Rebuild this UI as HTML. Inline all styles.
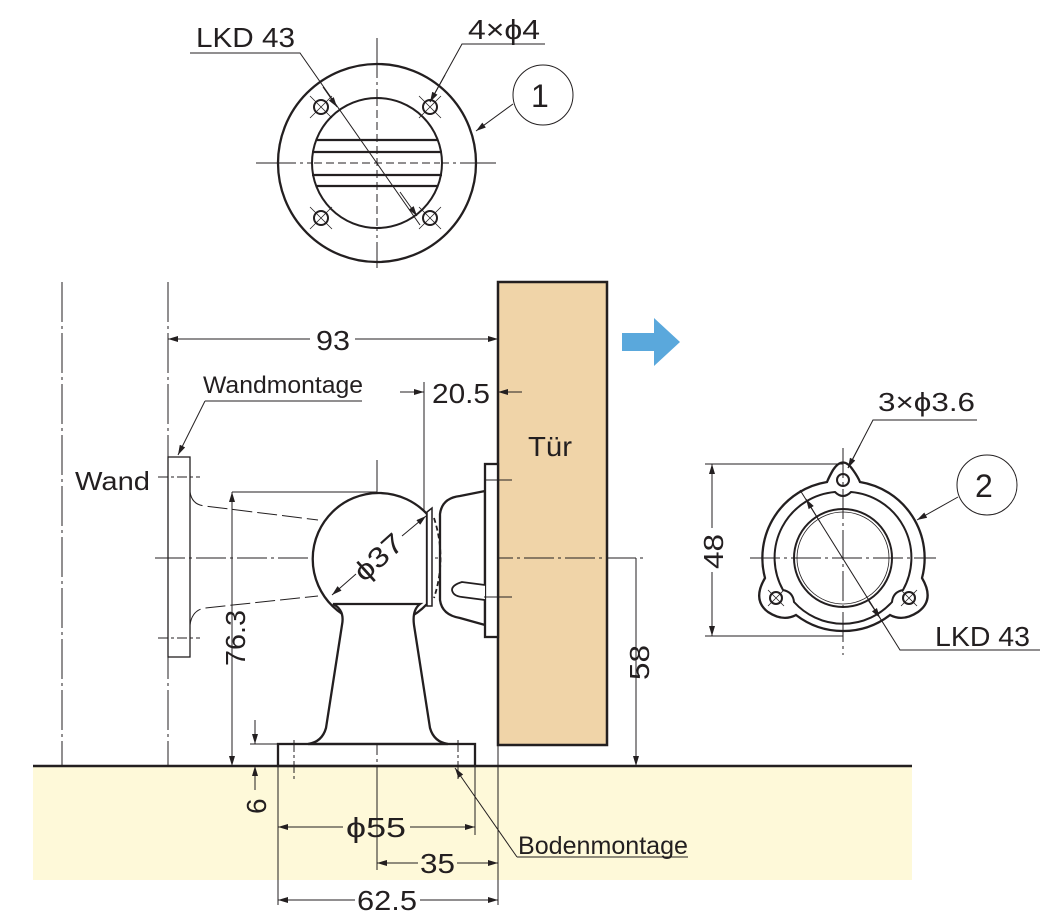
<!DOCTYPE html>
<html><head><meta charset="utf-8"><style>
html,body{margin:0;padding:0;background:#fff;}
svg{display:block;}
text{font-family:"Liberation Sans",sans-serif;fill:#231f20;}
</style></head><body>
<svg width="1051" height="917" viewBox="0 0 1051 917" xmlns="http://www.w3.org/2000/svg">
<defs>
<marker id="a" viewBox="0 0 10 6" refX="10" refY="3" markerWidth="14" markerHeight="6" markerUnits="userSpaceOnUse" orient="auto-start-reverse"><path d="M0,0L10,3L0,6z" fill="#231f20"/></marker>
</defs>
<rect x="33" y="766" width="879" height="114" fill="#fef9d9"/>
<rect x="498" y="282" width="109" height="463" fill="#f0d4a8" stroke="#231f20" stroke-width="2.5"/>
<line x1="33" y1="766" x2="912" y2="766" stroke="#231f20" stroke-width="2.5"/>

<g stroke="#231f20" fill="none" stroke-width="1">
<line x1="62" y1="282" x2="62" y2="766" stroke-dasharray="40,4,3,4"/>
<line x1="168" y1="282" x2="168" y2="766" stroke-dasharray="40,4,3,4"/>
<rect x="168" y="457" width="22" height="200" stroke-width="1.3"/>
<line x1="158" y1="477" x2="200" y2="477" stroke-dasharray="10,3,3,3"/>
<line x1="158" y1="638" x2="200" y2="638" stroke-dasharray="10,3,3,3"/>
<path d="M190,492 Q192,505 205,506 L318,520" stroke-dasharray="20,5"/>
<path d="M190,625 Q192,610 205,608 L318,596" stroke-dasharray="20,5"/>
<line x1="155" y1="558" x2="645" y2="558" stroke-dasharray="30,4,3,4"/>
<line x1="377" y1="460" x2="377" y2="790" stroke-dasharray="40,4,3,4"/>
</g>

<g stroke="#231f20" fill="#fff" stroke-width="2.3">
<path d="M427,514 A66,66 0 1 0 427,604 Z"/>
<path d="M333,604 Q345,610 342,625 L326,728 Q322,742 308,744 L448,744 Q434,742 430,728 L414,625 Q412,610 420,604 Z"/>
<rect x="278" y="744" width="197" height="22" fill="none"/>
<path d="M440,514 Q442,498 460,496 L485,491 L485,625 L460,618 Q442,615 440,600 Z"/>
<rect x="485" y="464" width="13" height="173"/>
<path d="M427,512 L432,508 L432,606 L427,606 Z" stroke-width="1.5"/>
<path d="M485,585 L462,582 Q452,585 452,590 Q453,596 462,597 L485,600" stroke-width="1.8"/>
</g>
<g stroke="#231f20" fill="none" stroke-width="1">
<path d="M434,518 Q447,558 434,598" stroke-dasharray="5,3" stroke-width="1.8"/>
<line x1="484" y1="480" x2="512" y2="480"/>
<line x1="484" y1="597" x2="512" y2="597"/>
<line x1="294" y1="740" x2="294" y2="780" stroke-dasharray="12,3,3,3"/>
<line x1="458" y1="740" x2="458" y2="780" stroke-dasharray="12,3,3,3"/>
<line x1="168" y1="339" x2="310" y2="339" marker-start="url(#a)"/>
<line x1="355" y1="339" x2="498" y2="339" marker-end="url(#a)"/>
<line x1="424" y1="382" x2="424" y2="512"/>
<line x1="400" y1="392" x2="424" y2="392" marker-end="url(#a)"/>
<line x1="498" y1="392" x2="522" y2="392" marker-start="url(#a)"/>
<line x1="232" y1="492" x2="377" y2="492"/>
<line x1="232" y1="492" x2="232" y2="766" marker-start="url(#a)" marker-end="url(#a)"/>
<line x1="636" y1="558" x2="636" y2="766" marker-end="url(#a)"/>
<line x1="250" y1="744" x2="280" y2="744"/>
<line x1="255" y1="720" x2="255" y2="744" marker-end="url(#a)"/>
<line x1="255" y1="790" x2="255" y2="766" marker-end="url(#a)"/>
<line x1="278" y1="766" x2="278" y2="905"/>
<line x1="475" y1="766" x2="475" y2="835"/>
<line x1="498" y1="745" x2="498" y2="905"/>
<line x1="377" y1="790" x2="377" y2="870"/>
<line x1="278" y1="827" x2="343" y2="827" marker-start="url(#a)"/>
<line x1="410" y1="827" x2="475" y2="827" marker-end="url(#a)"/>
<line x1="377" y1="863" x2="418" y2="863" marker-start="url(#a)"/>
<line x1="457" y1="863" x2="498" y2="863" marker-end="url(#a)"/>
<line x1="278" y1="900" x2="355" y2="900" marker-start="url(#a)"/>
<line x1="420" y1="900" x2="498" y2="900" marker-end="url(#a)"/>
<line x1="332" y1="595" x2="356" y2="574" marker-start="url(#a)"/>
<line x1="402" y1="536" x2="426" y2="516" marker-end="url(#a)"/>
<line x1="362" y1="401" x2="205" y2="401"/>
<line x1="205" y1="401" x2="178" y2="455" marker-end="url(#a)"/>
<line x1="688" y1="857" x2="517" y2="857"/>
<line x1="517" y1="857" x2="455" y2="768" marker-end="url(#a)"/>
</g>

<g stroke="#231f20" fill="none">
<line x1="256" y1="163" x2="496" y2="163" stroke-width="1" stroke-dasharray="40,4,3,4"/>
<line x1="377" y1="38" x2="377" y2="268" stroke-width="1" stroke-dasharray="40,4,3,4"/>
<circle cx="377" cy="163" r="99" stroke-width="2.3"/>
<circle cx="377" cy="163" r="65" stroke-width="2" fill="#fff"/>
<path d="M317,140 L437,140 M312,152 L442,152 M312,175 L442,175 M317,186 L437,186" stroke-width="2.3"/>
<line x1="314" y1="163" x2="440" y2="163" stroke-width="1" stroke-dasharray="8,4"/>
<line x1="377" y1="98" x2="377" y2="228" stroke-width="1" stroke-dasharray="8,4"/>
<g stroke-width="2"><circle cx="321" cy="107" r="7"/><circle cx="430" cy="107" r="7"/><circle cx="321" cy="218" r="7"/><circle cx="430" cy="218" r="7"/></g>
<g stroke-width="0.8">
<path d="M310,96 L332,118 M310,118 L332,96 M419,96 L441,118 M419,118 L441,96 M310,207 L332,229 M310,229 L332,207 M419,207 L441,229 M419,229 L441,207"/>
</g>
<polyline points="190,53 300,53 420,225" stroke-width="1"/>
<line x1="323" y1="87" x2="337" y2="107" stroke-width="1" marker-end="url(#a)"/>
<line x1="400" y1="192" x2="417" y2="216" stroke-width="1" marker-end="url(#a)"/>
<polyline points="545,44 462,44 430,102" stroke-width="1"/>
<line x1="445" y1="75" x2="430" y2="102" stroke-width="1" marker-end="url(#a)"/>
<line x1="513" y1="104" x2="476" y2="131" stroke-width="1" marker-end="url(#a)"/>
<circle cx="543" cy="95" r="30" stroke-width="1"/>
</g>

<g stroke="#231f20" fill="none">
<line x1="750" y1="558" x2="936" y2="558" stroke-width="1" stroke-dasharray="30,4,3,4"/>
<line x1="843" y1="448" x2="843" y2="655" stroke-width="1" stroke-dasharray="30,4,3,4"/>
<path d="M833,470 Q843,455 853,470 Q858,477 860,482 A77,77 0 0 1 922,578 Q935,600 918,612 Q903,622 890,615 A77,77 0 0 1 796,615 Q783,622 768,612 Q752,600 765,578 A77,77 0 0 1 827,482 Q829,477 833,470 Z" stroke-width="2.3"/>
<path d="M835,492 Q843,500 851,492 A66,66 0 0 1 903,590 Q893,592 892,602 A66,66 0 0 1 794,602 Q793,592 783,590 A66,66 0 0 1 835,492 Z" stroke-width="2"/>
<circle cx="843" cy="558" r="49" stroke-width="2"/>
<circle cx="843" cy="558" r="46" stroke-width="0.8"/>
<g stroke-width="2"><circle cx="843" cy="480" r="6"/><circle cx="776" cy="598" r="6"/><circle cx="909" cy="598" r="6"/></g>
<path d="M768,590 L784,606 M768,606 L784,590 M901,590 L917,606 M901,606 L917,590" stroke-width="0.8"/>
<line x1="705" y1="464" x2="843" y2="464" stroke-width="1"/>
<line x1="705" y1="636" x2="843" y2="636" stroke-width="1"/>
<line x1="712" y1="464" x2="712" y2="528" stroke-width="1" marker-start="url(#a)"/>
<line x1="712" y1="572" x2="712" y2="636" stroke-width="1" marker-end="url(#a)"/>
<polyline points="977,420 873,420 848,468" stroke-width="1"/>
<line x1="860" y1="445" x2="848" y2="468" stroke-width="1" marker-end="url(#a)"/>
<polyline points="1040,650 900,650 800,490" stroke-width="1"/>
<line x1="820" y1="522" x2="806" y2="499" stroke-width="1" marker-end="url(#a)"/>
<line x1="868" y1="600" x2="880" y2="618" stroke-width="1" marker-end="url(#a)"/>
<line x1="958" y1="497" x2="917" y2="520" stroke-width="1" marker-end="url(#a)"/>
<circle cx="987" cy="485" r="30" stroke-width="1"/>
</g>
<path d="M622,333 L654,333 L654,318 L680,342 L654,366 L654,351 L622,351 Z" fill="#5aa8dc"/>

<g font-size="28">
<text x="196" y="47" textLength="99" lengthAdjust="spacingAndGlyphs">LKD 43</text>
<text x="468" y="39" textLength="72" lengthAdjust="spacingAndGlyphs">4×ϕ4</text>
<text x="531" y="107" font-size="32">1</text>
<text x="975" y="497" font-size="32">2</text>
<text x="316" y="350" textLength="34" lengthAdjust="spacingAndGlyphs">93</text>
<text x="432" y="403" textLength="58" lengthAdjust="spacingAndGlyphs">20.5</text>
<text x="203" y="393" font-size="24" textLength="160" lengthAdjust="spacingAndGlyphs">Wandmontage</text>
<text x="75" y="490" font-size="26" textLength="75" lengthAdjust="spacingAndGlyphs">Wand</text>
<text x="528" y="456" textLength="44" lengthAdjust="spacingAndGlyphs">Tür</text>
<text x="878" y="411" font-size="26" textLength="97" lengthAdjust="spacingAndGlyphs">3×ϕ3.6</text>
<text x="935" y="646" textLength="95" lengthAdjust="spacingAndGlyphs">LKD 43</text>
<text x="518" y="854" font-size="25" textLength="170" lengthAdjust="spacingAndGlyphs">Bodenmontage</text>
<text x="346" y="837" textLength="60" lengthAdjust="spacingAndGlyphs">ϕ55</text>
<text x="420" y="873" textLength="35" lengthAdjust="spacingAndGlyphs">35</text>
<text x="357" y="910" textLength="60" lengthAdjust="spacingAndGlyphs">62.5</text>
<text transform="translate(245,666) rotate(-90)" textLength="56" lengthAdjust="spacingAndGlyphs">76.3</text>
<text transform="translate(649,680) rotate(-90)" textLength="35" lengthAdjust="spacingAndGlyphs">58</text>
<text transform="translate(723,569) rotate(-90)" textLength="35" lengthAdjust="spacingAndGlyphs">48</text>
<text transform="translate(266,814) rotate(-90)">6</text>
<text transform="translate(364,583) rotate(-42)" textLength="56" lengthAdjust="spacingAndGlyphs">ϕ37</text>
</g>
</svg>
</body></html>
